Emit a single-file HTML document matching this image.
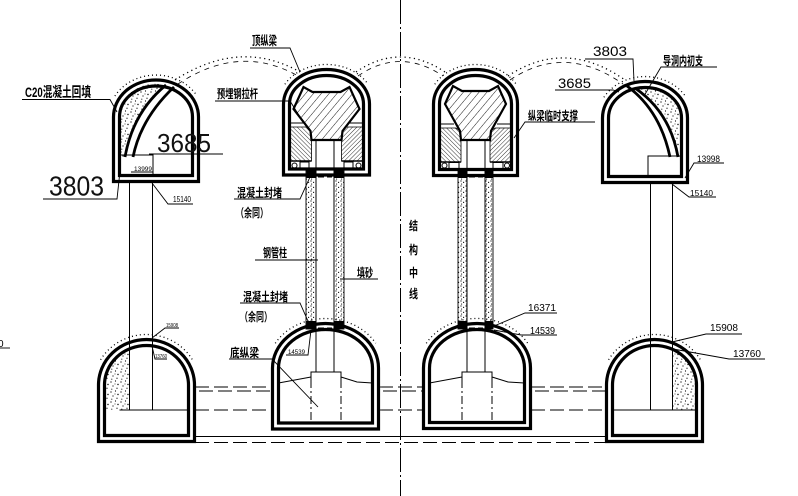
<!DOCTYPE html>
<html><head><meta charset="utf-8"><style>
html,body{margin:0;padding:0;background:#fff;}
svg{display:block;}
text{font-family:"Liberation Sans","Noto Sans CJK SC",sans-serif;fill:#000;}
.cn{font-weight:bold;}
</style></head><body>
<svg width="798" height="496" viewBox="0 0 798 496" xmlns="http://www.w3.org/2000/svg">
<defs>
<pattern id="dots" width="10" height="10" patternUnits="userSpaceOnUse">
<circle cx="1" cy="2" r="0.65"/><circle cx="5.5" cy="1" r="0.6"/><circle cx="8" cy="4.5" r="0.7"/><circle cx="3" cy="6" r="0.6"/><circle cx="7" cy="8.2" r="0.6"/><circle cx="1.8" cy="9.2" r="0.55"/><circle cx="5" cy="4" r="0.45"/>
</pattern>
<pattern id="pdots" width="5" height="5" patternUnits="userSpaceOnUse">
<circle cx="1" cy="1" r="0.6"/><circle cx="3.6" cy="2.4" r="0.6"/><circle cx="1.6" cy="4.1" r="0.55"/>
</pattern>
<pattern id="h1" width="6" height="6" patternUnits="userSpaceOnUse" patternTransform="rotate(40)">
<line x1="0" y1="0" x2="0" y2="6" stroke="#000" stroke-width="0.9"/>
</pattern>
<pattern id="hL" width="3" height="3" patternUnits="userSpaceOnUse" patternTransform="rotate(-45)">
<line x1="0" y1="0" x2="0" y2="3" stroke="#000" stroke-width="0.8"/>
</pattern>
<pattern id="hR" width="3" height="3" patternUnits="userSpaceOnUse" patternTransform="rotate(45)">
<line x1="0" y1="0" x2="0" y2="3" stroke="#000" stroke-width="0.8"/>
</pattern>
</defs>

<!-- center line -->
<line x1="400.5" y1="0" x2="400.5" y2="496" stroke="#000" stroke-width="1" stroke-dasharray="24 3 2 3"/>

<!-- big excavation arcs -->
<g fill="none" stroke="#000">
<path d="M175,80 Q240,38 300,72" stroke-width="1.3" stroke-dasharray="1.2 3.5"/>
<path d="M178,84 Q240,43 298,76" stroke-width="0.8" stroke-dasharray="5 5"/>
<path d="M356,72 Q400,42 445,72" stroke-width="1.3" stroke-dasharray="1.2 3.5"/>
<path d="M358,76 Q400,47 443,76" stroke-width="0.8" stroke-dasharray="5 5"/>
<path d="M508,76 Q565,38 625,80" stroke-width="1.3" stroke-dasharray="1.2 3.5"/>
<path d="M510,80 Q565,43 623,84" stroke-width="0.8" stroke-dasharray="5 5"/>
</g>

<!-- dotted tunnel outlines -->
<g fill="none" stroke="#000" stroke-width="1.3" stroke-dasharray="1 3">
<path d="M114.9,96 A47.5,42 0 0 1 197.1,96"/>
<path d="M284.9,84.25 A48,39.5 0 0 1 368.1,84.25"/>
<path d="M434.8,84.25 A47,39.5 0 0 1 516.2,84.25"/>
<path d="M603.9,97.25 A47.5,41.5 0 0 1 686.1,97.25"/>
<path d="M100.6,359.75 A53,50.5 0 0 1 192.4,359.75"/>
<path d="M275.3,343.25 A58,49.5 0 0 1 375.7,343.25"/>
<path d="M426.3,343.25 A58.5,49.5 0 0 1 527.7,343.25"/>
<path d="M608.6,359.75 A53,50.5 0 0 1 700.4,359.75"/>
</g>

<!-- horizontal dashed lines at bottom -->
<g stroke="#000" stroke-width="0.9" fill="none">
<g stroke-dasharray="14 5">
<line x1="195" y1="387" x2="273" y2="387"/><line x1="199" y1="391" x2="273" y2="391"/><line x1="195" y1="410" x2="273" y2="410"/>
<line x1="379" y1="387" x2="424" y2="387"/><line x1="383" y1="391" x2="424" y2="391"/><line x1="379" y1="410" x2="424" y2="410"/>
<line x1="531" y1="387" x2="607" y2="387"/><line x1="535" y1="391" x2="607" y2="391"/><line x1="531" y1="410" x2="607" y2="410"/>
<line x1="195" y1="442.5" x2="607" y2="442.5"/>
</g>
<line x1="195" y1="436.5" x2="607" y2="436.5"/>
</g>

<!-- dotted fills -->
<path d="M166,85 A36.5,31 0 0 0 119.5,117 V157 L125,157 Q133,112 166,85 Z" fill="url(#dots)"/>
<path d="M635,88.7 A36.5,30.5 0 0 1 681.5,118 V157 L678,157 Q670,112 635,88.7 Z" fill="url(#dots)"/>
<path d="M130,348.7 A42,39.5 0 0 0 104.5,385 V410 H130 Z" fill="url(#dots)"/>
<path d="M672,349.1 A42,39.5 0 0 1 696.5,385 V410 H672 Z" fill="url(#dots)"/>

<!-- pipes -->
<g stroke="#000" stroke-width="0.9">
<rect x="306" y="169" width="10" height="160" fill="url(#pdots)"/>
<rect x="334" y="169" width="10" height="160" fill="url(#pdots)"/>
<rect x="458" y="169" width="9" height="160" fill="url(#pdots)"/>
<rect x="485" y="169" width="8" height="160" fill="url(#pdots)"/>
</g>
<g fill="#000">
<rect x="306.5" y="170" width="9.5" height="8"/><rect x="334" y="170" width="9.5" height="8"/>
<rect x="306.5" y="321" width="9.5" height="8"/><rect x="334" y="321" width="9.5" height="8"/>
<rect x="458" y="170" width="9" height="8"/><rect x="485" y="170" width="8" height="8"/>
<rect x="458" y="321" width="9" height="8"/><rect x="485" y="321" width="8" height="8"/>
</g>

<!-- columns -->
<g stroke="#000" stroke-width="1" fill="none">
<line x1="129.5" y1="182" x2="129.5" y2="410"/><line x1="152.5" y1="182" x2="152.5" y2="410"/>
<line x1="650.5" y1="183" x2="650.5" y2="410"/><line x1="672.5" y1="183" x2="672.5" y2="410"/>
<line x1="316" y1="140" x2="316" y2="372"/><line x1="334" y1="140" x2="334" y2="372"/>
<line x1="467" y1="140" x2="467" y2="372"/><line x1="485" y1="140" x2="485" y2="372"/>
<line x1="119.5" y1="410" x2="188.5" y2="410"/>
<line x1="612.5" y1="410" x2="696.5" y2="410"/>
<polyline points="121,155 153,155 153,176"/>
<polyline points="682,156 648,156 648,177"/>
<polyline points="311,380 311,372 341,372 341,380"/>
<polyline points="462,380 462,372 492,372 492,380"/>
<g stroke-dasharray="8 3 2 3"><line x1="311" y1="380" x2="311" y2="423"/><line x1="341" y1="380" x2="341" y2="423"/><line x1="462" y1="380" x2="462" y2="423"/><line x1="492" y1="380" x2="492" y2="423"/></g>
<polyline points="278.5,383 311,377"/><polyline points="341,377 357,382 372.5,383"/>
<polyline points="429.5,383 462,377"/><polyline points="492,377 508,382 524.5,383"/>
<g stroke-dasharray="6 3"><line x1="318" y1="177" x2="332" y2="177"/><line x1="318" y1="328" x2="332" y2="328"/><line x1="469" y1="177" x2="483" y2="177"/><line x1="469" y1="328" x2="483" y2="328"/></g>
</g>

<!-- TM interior -->
<g stroke="#000">
<polygon points="293.5,109 303.5,87 312.5,92 340.5,92 349.5,87 359.5,109 342.5,131 341.5,140 311.5,140 310.5,131" fill="url(#h1)" stroke-width="2.2"/>
<polygon points="289.5,127 307.4,127 310.5,131 311.5,140 311.5,161 289.5,161" fill="url(#hL)" stroke-width="0.8"/>
<polygon points="363.5,127 345.6,127 342.5,131 341.5,140 341.5,161 363.5,161" fill="url(#hR)" stroke-width="0.8"/>
<line x1="289.5" y1="123" x2="304.3" y2="123" stroke-width="1"/><line x1="348.7" y1="123" x2="363.5" y2="123" stroke-width="1"/>
<line x1="289.5" y1="161" x2="311.5" y2="161" stroke-width="1.6"/><line x1="341.5" y1="161" x2="363.5" y2="161" stroke-width="1.6"/>
<g fill="#fff" stroke-width="1"><circle cx="294.5" cy="165.5" r="2.5"/><rect x="300" y="162" width="9" height="6.5"/><rect x="344" y="162" width="9" height="6.5"/><circle cx="358.5" cy="165.5" r="2.5"/></g>
</g>
<!-- TRM interior -->
<g stroke="#000">
<polygon points="445,104 453,86 462,91 489,91 498,86 506,104 491,131 490,140 461,140 460,131" fill="url(#h1)" stroke-width="2.2"/>
<polygon points="439.5,128 456,128 460,131 461,140 461,162 439.5,162" fill="url(#hL)" stroke-width="0.8"/>
<polygon points="511.5,128 495,128 491,131 490,140 490,162 511.5,162" fill="url(#hR)" stroke-width="0.8"/>
<line x1="439.5" y1="124" x2="454" y2="124" stroke-width="1"/><line x1="497" y1="124" x2="511.5" y2="124" stroke-width="1"/>
<line x1="439.5" y1="162" x2="461" y2="162" stroke-width="1.6"/><line x1="490" y1="162" x2="511.5" y2="162" stroke-width="1.6"/>
<g fill="#fff" stroke-width="1"><circle cx="444.5" cy="165.5" r="2.5"/><rect x="449" y="162.5" width="10" height="6"/><rect x="493" y="162.5" width="10" height="6"/><circle cx="507" cy="165.5" r="2.5"/></g>
</g>

<!-- TL / TR curves -->
<g fill="none" stroke="#000" stroke-width="2.8">
<path d="M166,85 Q133,112 125,157"/>
<path d="M174,87 Q141,118 133,157"/>
<path d="M627,86 Q660,110 670,157"/>
<path d="M635,88 Q670,112 678,157"/>
</g>

<!-- tunnel linings -->
<g fill="none" stroke="#000" stroke-width="3.2">
<path d="M113.5,181.5 V117 A42.5,37 0 0 1 198.5,117 V181.5 Z"/>
<path d="M119.5,175.5 V117 A36.5,31 0 0 1 192.5,117 V175.5 Z"/>
<path d="M283.5,175 V104 A43,34.5 0 0 1 369.5,104 V175 Z"/>
<path d="M289.5,169 V104 A37,28.5 0 0 1 363.5,104 V169 Z"/>
<path d="M433.5,175.5 V104 A42,34.5 0 0 1 517.5,104 V175.5 Z"/>
<path d="M439.5,169.5 V104 A36,28.5 0 0 1 511.5,104 V169.5 Z"/>
<path d="M602.5,182.5 V118 A42.5,36.5 0 0 1 687.5,118 V182.5 Z"/>
<path d="M608.5,176.5 V118 A36.5,30.5 0 0 1 681.5,118 V176.5 Z"/>
<path d="M98.5,441.5 V385 A48,45.5 0 0 1 194.5,385 V441.5 Z"/>
<path d="M104.5,435.5 V385 A42,39.5 0 0 1 188.5,385 V435.5 Z"/>
<path d="M272.5,429 V368 A53,44.5 0 0 1 378.5,368 V429 Z"/>
<path d="M278.5,423 V368 A47,38.5 0 0 1 372.5,368 V423 Z"/>
<path d="M423.5,428.5 V368 A53.5,44.5 0 0 1 530.5,368 V428.5 Z"/>
<path d="M429.5,422.5 V368 A47.5,38.5 0 0 1 524.5,368 V422.5 Z"/>
<path d="M606.5,441.5 V385 A48,45.5 0 0 1 702.5,385 V441.5 Z"/>
<path d="M612.5,435.5 V385 A42,39.5 0 0 1 696.5,385 V435.5 Z"/>
</g>

<!-- leader lines -->
<g stroke="#000" stroke-width="0.9" fill="none">
<polyline points="22,99.5 110,99.5 117,112"/>
<line x1="149" y1="154" x2="223" y2="154"/>
<polyline points="43,199 117,199 120,171"/>
<polyline points="152,183 168,204 193,204"/>
<line x1="131" y1="172" x2="153" y2="172"/>
<polyline points="250,48 290,48 300,72"/>
<polyline points="215,101 290,101 300,117"/>
<polyline points="234,199 300,199 310,177"/>
<line x1="255" y1="260" x2="318" y2="260"/>
<line x1="340" y1="279" x2="378" y2="279"/>
<polyline points="240,303 300,303 311,328"/>
<polyline points="229,359 272,359 318,407"/>
<polyline points="286,355 308,355 311,330"/>
<polyline points="557,313 525,313 494,326"/>
<polyline points="557,335 521,335 494,330"/>
<polyline points="742,334 706,334 672,342"/>
<polyline points="765,359 729,359 673,349"/>
<polyline points="585,59 633,59 634,81"/>
<polyline points="555,90 613,90 619,92"/>
<polyline points="717,67 661,67 644,96"/>
<polyline points="724,163 694,163 685,178"/>
<polyline points="716,197 689,197 672,184"/>
<polyline points="595,122 525,122 514,138"/>
<line x1="0" y1="348" x2="10" y2="348"/>
<polyline points="179,328 165,328 152,338"/>
<polyline points="167,359 155,359 152,346"/>
</g>

<!-- labels -->
<text class="cn" x="25" y="97" font-size="14" textLength="66" lengthAdjust="spacingAndGlyphs">C20混凝土回填</text>
<text x="157" y="152" font-size="26" textLength="54" lengthAdjust="spacingAndGlyphs" style="font-weight:300;fill:#111">3685</text>
<text x="49" y="195.5" font-size="28" textLength="55" lengthAdjust="spacingAndGlyphs" style="font-weight:300;fill:#111">3803</text>
<text x="173" y="202" font-size="8" textLength="18" lengthAdjust="spacingAndGlyphs">15140</text>
<text x="134" y="171" font-size="6.5" textLength="18" lengthAdjust="spacingAndGlyphs">13999</text>
<text class="cn" x="252" y="45" font-size="12.5" textLength="25" lengthAdjust="spacingAndGlyphs">顶纵梁</text>
<text class="cn" x="217" y="98" font-size="12" textLength="41" lengthAdjust="spacingAndGlyphs">预埋钢拉杆</text>
<text class="cn" x="237" y="197" font-size="12" textLength="45" lengthAdjust="spacingAndGlyphs">混凝土封堵</text>
<text class="cn" x="236" y="217" font-size="12" textLength="32" lengthAdjust="spacingAndGlyphs">（余同）</text>
<text class="cn" x="263" y="257" font-size="12" textLength="24" lengthAdjust="spacingAndGlyphs">钢管柱</text>
<text class="cn" x="357" y="277" font-size="12" textLength="16" lengthAdjust="spacingAndGlyphs">填砂</text>
<text class="cn" x="243" y="301" font-size="12" textLength="45" lengthAdjust="spacingAndGlyphs">混凝土封堵</text>
<text class="cn" x="240" y="321" font-size="12" textLength="32" lengthAdjust="spacingAndGlyphs">（余同）</text>
<text class="cn" x="230" y="357" font-size="12" textLength="29" lengthAdjust="spacingAndGlyphs">底纵梁</text>
<text class="cn" x="409" y="230" font-size="12" textLength="9" lengthAdjust="spacingAndGlyphs">结</text>
<text class="cn" x="409" y="254" font-size="12" textLength="9" lengthAdjust="spacingAndGlyphs">构</text>
<text class="cn" x="409" y="277" font-size="12" textLength="9" lengthAdjust="spacingAndGlyphs">中</text>
<text class="cn" x="409" y="298" font-size="12" textLength="9" lengthAdjust="spacingAndGlyphs">线</text>
<text x="288" y="354" font-size="6" textLength="17" lengthAdjust="spacingAndGlyphs">14539</text>
<text x="528" y="311" font-size="10" textLength="28" lengthAdjust="spacingAndGlyphs">16371</text>
<text x="530" y="334" font-size="10" textLength="25" lengthAdjust="spacingAndGlyphs">14539</text>
<text x="710" y="331" font-size="10.5" textLength="28" lengthAdjust="spacingAndGlyphs">15908</text>
<text x="733" y="357" font-size="10.5" textLength="28" lengthAdjust="spacingAndGlyphs">13760</text>
<text x="593" y="56" font-size="14" textLength="34" lengthAdjust="spacingAndGlyphs">3803</text>
<text x="558" y="88" font-size="14" textLength="33" lengthAdjust="spacingAndGlyphs">3685</text>
<text class="cn" x="663" y="65" font-size="12" textLength="40" lengthAdjust="spacingAndGlyphs">导洞内初支</text>
<text x="697" y="162" font-size="9" textLength="23" lengthAdjust="spacingAndGlyphs">13998</text>
<text x="690" y="196" font-size="8.5" textLength="23" lengthAdjust="spacingAndGlyphs">15140</text>
<text class="cn" x="528" y="120" font-size="12" textLength="50" lengthAdjust="spacingAndGlyphs">纵梁临时支撑</text>
<text x="-2" y="347" font-size="10">0</text>
<text x="166" y="327" font-size="5" textLength="12" lengthAdjust="spacingAndGlyphs">15908</text>
<text x="155" y="358" font-size="5" textLength="12" lengthAdjust="spacingAndGlyphs">13760</text>
</svg>
</body></html>
